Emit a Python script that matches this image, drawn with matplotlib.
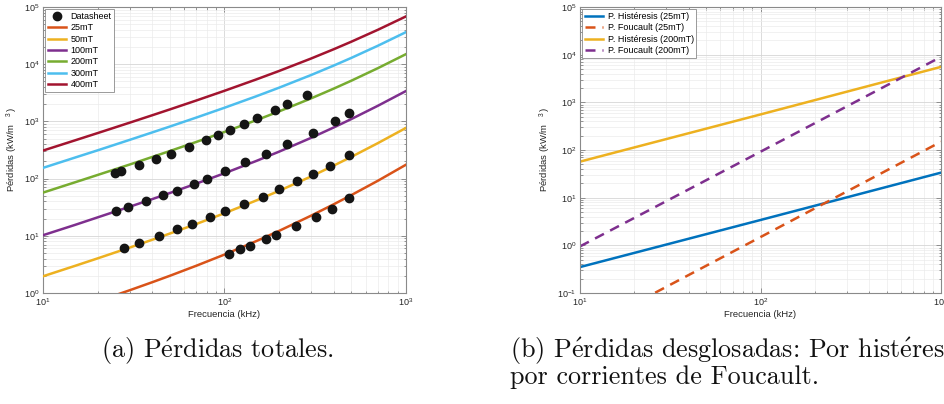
import matplotlib
matplotlib.use('Agg')
import matplotlib.pyplot as plt
from matplotlib.ticker import LogLocator, LogFormatterMathtext, NullFormatter

plt.rcParams['font.family'] = ['Liberation Sans', 'DejaVu Sans']
plt.rcParams['mathtext.fontset'] = 'cm'

# ---------------- data: total losses (left) ----------------
freq = [10, 15, 20, 30, 40, 50, 70, 100, 150, 200, 300, 400, 500, 700, 1000]
p_25mT = [0.344, 0.527, 0.716, 1.116, 1.544, 2.0, 3.0, 4.7, 8.1, 12.2, 22.5, 35.6, 51.5, 91.7, 175]
p_50mT = [1.96, 2.98, 4.03, 6.22, 8.53, 10.95, 16.1, 24.8, 41.6, 61.2, 109, 169, 240, 417, 770]
p_100mT = [10.24, 15.5, 21.0, 32.2, 43.8, 56, 81.8, 124, 204, 296, 516, 784, 1100, 1876, 3400]
p_200mT = [56.9, 86.1, 115.8, 176, 239, 303.5, 438, 654, 1052, 1496, 2526, 3744, 5150, 8526, 15000]
p_300mT = [154, 233, 312, 475, 642, 813, 1168, 1732, 2757, 3888, 6468, 9472, 12900, 21028, 36400]
p_400mT = [309, 466, 625, 949, 1281, 1620, 2321, 3430, 5430, 7620, 12570, 18280, 24750, 39970, 68500]

# datasheet points
ds_f_200 = [25.0, 27.0, 33.6, 41.8, 50.8, 63.6, 78.9, 92.3, 107.9, 127.3, 151.4, 188.7, 221.6, 285.6]
ds_p_200 = [124, 136, 173, 220, 273, 361, 479, 578, 706, 898, 1127, 1556, 1980, 2840]
ds_f_100 = [25.4, 29.4, 36.8, 45.9, 54.4, 68.3, 79.6, 100.4, 130.5, 168.3, 221.6, 305.7, 404, 487]
ds_p_100 = [26.9, 32.1, 40.2, 51.2, 60.1, 81.8, 98.6, 134, 193, 273, 397, 634, 1000, 1416]
ds_f_50 = [28.1, 33.8, 43.3, 54.4, 65.8, 83.4, 100.4, 127.3, 163.4, 199.4, 249.5, 308.4, 379.5, 487]
ds_p_50 = [6.18, 7.45, 9.86, 12.9, 16.4, 21.7, 26.9, 35.6, 47.9, 65.2, 91.0, 119, 166, 255]
ds_f_25 = [106.1, 122.5, 137.4, 168.3, 191.9, 247.3, 317.5, 392.5, 485]
ds_p_25 = [4.85, 5.78, 6.69, 8.75, 10.4, 14.6, 21.4, 29.6, 45.4]

# ---------------- data: decomposed losses (right) ----------------
comp_freq = [10, 100, 1000]
hyst_25mT = [0.35, 3.4, 33.5]
eddy_25mT = [0.0149, 1.49, 149]
hyst_200mT = [57, 557, 5545]
eddy_200mT = [0.95, 92, 8980]

labels_total = ['25mT', '50mT', '100mT', '200mT', '300mT', '400mT']
labels_comp = ['P. Histéresis (25mT)', 'P. Foucault (25mT)',
               'P. Histéresis (200mT)', 'P. Foucault (200mT)']
E_ACUTE = r'$\mathrm{\acute{e}}$'
caption_a = '(a) P' + E_ACUTE + 'rdidas totales.'
caption_b1 = '(b) P' + E_ACUTE + 'rdidas desglosadas: Por hist' + E_ACUTE + 'resis y'
caption_b2 = 'por corrientes de Foucault.'

C_BLUE = '#0072BD'
C_ORANGE = '#D95319'
C_YELLOW = '#EDB120'
C_PURPLE = '#7E2F8E'
C_GREEN = '#77AC30'
C_CYAN = '#4DBEEE'
C_RED = '#A2142F'

W, H = 944, 404
fig = plt.figure(figsize=(W / 100, H / 100), dpi=100)


def axes_px(x0, x1, ytop, ybot):
    return fig.add_axes([x0 / W, 1 - ybot / H, (x1 - x0) / W, (ybot - ytop) / H])


def style(ax, ylim):
    ax.set_xscale('log')
    ax.set_yscale('log')
    ax.set_xlim(10, 1000)
    ax.set_ylim(*ylim)
    for axis in (ax.xaxis, ax.yaxis):
        axis.set_major_locator(LogLocator(base=10, numticks=20))
        axis.set_minor_locator(LogLocator(base=10, subs=range(2, 10), numticks=20))
        axis.set_major_formatter(LogFormatterMathtext())
        axis.set_minor_formatter(NullFormatter())
    ax.grid(True, which='major', color='#d6d6d6', lw=0.6)
    ax.grid(True, which='minor', color='#ebebeb', lw=0.5)
    ax.set_axisbelow(True)
    ax.tick_params(which='both', direction='in', top=True, right=True,
                   color='#6e6e6e', labelcolor='#262626', labelsize=6.5, width=0.5)
    ax.tick_params(which='major', length=3.5, pad=2.5)
    ax.tick_params(which='minor', length=1.8)
    for s in ax.spines.values():
        s.set_color('#8a8a8a')
        s.set_linewidth(0.8)
    ax.set_xlabel('Frecuencia (kHz)', fontsize=6.8, color='#262626', labelpad=1)
    ax.set_ylabel(r'Pérdidas (kW/m   $^{\mathdefault{3}}$)', fontsize=6.8,
                  color='#262626', labelpad=3)


# ---------------- left axes ----------------
ax1 = axes_px(43, 406, 7, 293)
style(ax1, (1, 1e5))
ax1.plot(ds_f_200 + ds_f_100 + ds_f_50 + ds_f_25,
         ds_p_200 + ds_p_100 + ds_p_50 + ds_p_25,
         'o', color='#151515', markersize=6, zorder=5, label='Datasheet')
lw = 1.8
for vals, col, lab in zip([p_25mT, p_50mT, p_100mT, p_200mT, p_300mT, p_400mT],
                          [C_ORANGE, C_YELLOW, C_PURPLE, C_GREEN, C_CYAN, C_RED],
                          labels_total):
    ax1.plot(freq, vals, color=col, lw=lw, label=lab, zorder=3)
leg_kw = dict(loc='upper left', fontsize=6.5, frameon=True, fancybox=False,
              edgecolor='#8a8a8a', framealpha=1, borderaxespad=0.25,
              handlelength=2.0, handletextpad=0.5, labelspacing=0.26,
              borderpad=0.3)
leg1 = ax1.legend(**leg_kw)
leg1.get_frame().set_linewidth(0.6)

# ---------------- right axes ----------------
ax2 = axes_px(580, 941, 7, 293)
style(ax2, (0.1, 1e5))
dash = (0, (4.0, 2.8))
ax2.plot(comp_freq, hyst_25mT, color=C_BLUE, lw=lw, label=labels_comp[0])
ax2.plot(comp_freq, eddy_25mT, color=C_ORANGE, lw=lw, ls=dash, label=labels_comp[1])
ax2.plot(comp_freq, hyst_200mT, color=C_YELLOW, lw=lw, label=labels_comp[2])
ax2.plot(comp_freq, eddy_200mT, color=C_PURPLE, lw=lw, ls=dash, label=labels_comp[3])
leg2 = ax2.legend(**leg_kw)
leg2.get_frame().set_linewidth(0.6)

# ---------------- captions ----------------
cap_font = ['cmr10', 'DejaVu Serif']
cap_size = 18.8
fig.text(217 / W, 1 - 358 / H, caption_a, ha='center', va='baseline',
         family=cap_font, fontsize=cap_size, color='#111111')
fig.text(510 / W, 1 - 358 / H, caption_b1, ha='left', va='baseline',
         family=cap_font, fontsize=cap_size, color='#111111')
fig.text(510 / W, 1 - 384 / H, caption_b2, ha='left', va='baseline',
         family=cap_font, fontsize=cap_size, color='#111111')

fig.savefig('out.png', dpi=100)
